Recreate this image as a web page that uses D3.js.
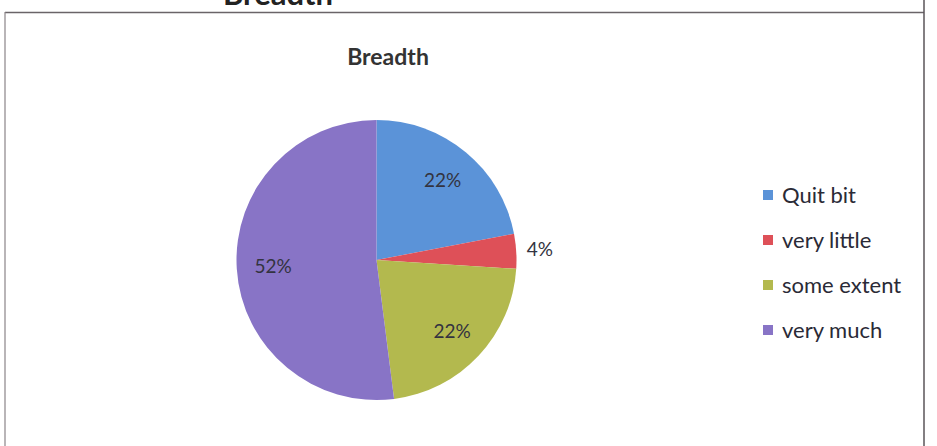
<!DOCTYPE html>
<html><head><meta charset="utf-8">
<script src="https://cdn.jsdelivr.net/npm/d3@7"></script>
<style>html,body{margin:0;padding:0;background:#fff;}svg{display:block;}</style>
</head><body>
<svg id="c" width="937" height="446"></svg>
<script>
const categories = ["Quit bit", "very little", "some extent", "very much"];
const values = [22, 4, 22, 52];
const colors = ["#5b93d8", "#de5058", "#b3b94e", "#8874c6"];
const chartTitle = "Breadth";
const headerTitle = "Breadth";

const svg = d3.select("#c");
const font = "Lato, 'Open Sans', sans-serif";

// outer frame
svg.append("line").attr("x1",5).attr("x2",924).attr("y1",12.5).attr("y2",12.5).attr("stroke","#6a6468").attr("stroke-width",1.5);
svg.append("line").attr("x1",5).attr("x2",5).attr("y1",12).attr("y2",446).attr("stroke","#8a8488").attr("stroke-width",1.2);
svg.append("line").attr("x1",924).attr("x2",924).attr("y1",0).attr("y2",446).attr("stroke","#5a5458").attr("stroke-width",1.5);

// cropped header
svg.append("text").attr("x",278).attr("y",5).attr("text-anchor","middle")
  .attr("font-family",font).attr("font-weight","bold").attr("font-size",31).attr("fill","#222")
  .text(headerTitle);

// chart title
svg.append("text").attr("x",388).attr("y",65).attr("text-anchor","middle")
  .attr("font-family",font).attr("font-weight","bold").attr("font-size",23).attr("fill","#333")
  .text(chartTitle);

const cx = 376.5, cy = 260, R = 140;
const pie = d3.pie().sort(null).value(d => d)(values);
const arc = d3.arc().innerRadius(0).outerRadius(R);
const g = svg.append("g").attr("transform", `translate(${cx},${cy})`);
g.selectAll("path").data(pie).join("path")
  .attr("d", arc).attr("fill", (d,i) => colors[i]);

const labelArc = d3.arc().innerRadius(R*0.74).outerRadius(R*0.74);
const outArc = d3.arc().innerRadius(R*1.17).outerRadius(R*1.17);
g.selectAll("text").data(pie).join("text")
  .attr("transform", d => {
    const frac = (d.endAngle - d.startAngle) / (2*Math.PI);
    const p = frac < 0.08 ? outArc.centroid(d) : labelArc.centroid(d);
    return `translate(${p[0]},${p[1]})`;
  })
  .attr("text-anchor","middle").attr("dy","0.35em")
  .attr("font-family",font).attr("font-size",19).attr("fill","#333340")
  .text(d => d3.format(".0f")(d.data) + "%");

// legend
const ly = d3.scalePoint().domain(categories).range([195, 330]);
const lg = svg.append("g");
categories.forEach((c,i) => {
  lg.append("rect").attr("x",763).attr("y",ly(c)-5).attr("width",10).attr("height",10).attr("fill",colors[i]);
  lg.append("text").attr("x",782).attr("y",ly(c)).attr("dy","0.35em")
    .attr("font-family",font).attr("font-size",22).attr("fill","#2a2a36").text(c);
});
</script>
</body></html>
